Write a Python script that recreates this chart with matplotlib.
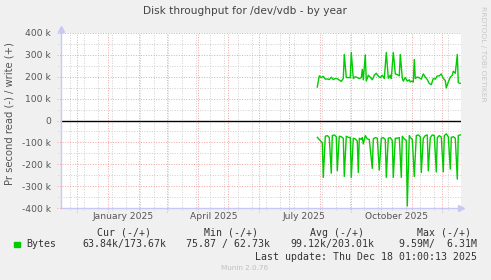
import matplotlib
matplotlib.use("Agg")
import matplotlib.pyplot as plt
import matplotlib.patches as mpatches
import pandas as pd

W, H = 491, 280

# day offsets from 2025-07-01, values in k (bytes per second)
write_days = [28, 30, 32, 34, 36, 38, 40, 42, 44, 46, 48, 50, 52, 54, 55, 57, 59, 61,
              62, 64, 66, 68, 70, 72, 73, 74, 76, 77, 79, 81, 83, 85, 87, 89, 91, 93,
              95, 97, 99, 101, 102, 104, 106, 108, 110, 111, 113, 114, 116, 118, 120,
              121, 122, 124, 125, 126, 128, 130, 132, 134, 136, 138, 140, 142, 144,
              146, 148, 150, 152, 154, 156, 157, 159, 161, 163, 164, 166, 168, 169, 171]
write_kb = [153, 204, 196, 202, 189, 190, 187, 198, 187, 192, 191, 185, 179, 192, 302,
            196, 196, 196, 311, 192, 200, 196, 192, 196, 234, 186, 300, 180, 207, 198,
            186, 207, 216, 203, 196, 207, 192, 311, 193, 207, 192, 311, 213, 210, 204,
            302, 193, 180, 196, 180, 186, 176, 180, 176, 279, 192, 199, 195, 189, 213,
            199, 187, 169, 164, 192, 189, 204, 204, 213, 192, 183, 149, 176, 198, 207,
            225, 216, 302, 173, 170]

read_days = [28, 30, 32, 33, 34, 36, 38, 40, 42, 43, 45, 47, 48, 50, 52, 54, 55, 57,
             59, 61, 62, 64, 66, 68, 69, 70, 72, 73, 74, 76, 78, 80, 83, 84, 86, 88,
             90, 92, 94, 96, 97, 99, 101, 103, 104, 106, 108, 110, 112, 113, 115, 117,
             118, 120, 121, 123, 125, 127, 129, 131, 132, 134, 136, 138, 139, 141, 143,
             145, 147, 148, 150, 152, 154, 155, 157, 159, 161, 162, 164, 166, 168, 169, 171]
read_kb = [-77, -87, -97, -103, -260, -72, -69, -77, -241, -69, -66, -74, -230, -72, -74,
           -81, -256, -72, -77, -78, -260, -81, -84, -94, -238, -81, -87, -78, -107, -69,
           -84, -87, -219, -84, -78, -81, -227, -81, -78, -87, -260, -81, -78, -92, -260,
           -81, -81, -78, -260, -72, -84, -92, -391, -69, -77, -87, -256, -69, -66, -74,
           -238, -81, -69, -66, -230, -78, -66, -69, -235, -78, -69, -76, -235, -69, -61,
           -74, -222, -77, -74, -81, -268, -69, -66]

y_ticks = [-400, -300, -200, -100, 0, 100, 200, 300, 400]
month_labels = ["January 2025", "April 2025", "July 2025", "October 2025"]
label_dates = ["2025-01-16", "2025-04-16", "2025-07-16", "2025-10-16"]

legend_headers = ["Cur (-/+)", "Min (-/+)", "Avg (-/+)", "Max (-/+)"]
legend_values = ["63.84k/173.67k", "75.87 / 62.73k", "99.12k/203.01k", "9.59M/  6.31M"]
last_update = "Last update: Thu Dec 18 01:00:13 2025"

base = pd.Timestamp("2025-07-01")
write_x = [base + pd.Timedelta(days=d) for d in write_days]
read_x = [base + pd.Timedelta(days=d) for d in read_days]

fig = plt.figure(figsize=(W / 100, H / 100), dpi=100, facecolor="#f0f0f0")
ax = fig.add_axes([60.5 / W, 1 - 208 / H, 400.5 / W, 175 / H])
ax.set_facecolor("white")

x0 = pd.Timestamp("2024-11-14 05:00")
x1 = pd.Timestamp("2025-12-19 17:00")
ax.set_xlim(x0, x1)
ax.set_ylim(-400, 400)

red = "#f4a3a3"
grey = "#cfcfcf"
dots = (0, (1, 1.6))

# minor grid: every 50k / every two weeks
for v in range(-350, 400, 100):
    ax.axhline(v, xmin=-0.006, color=grey, lw=0.7, ls=dots, clip_on=False, zorder=1)
for d in pd.date_range("2024-11-24", x1, freq="14D"):
    ax.axvline(d, ymin=-0.012, color=grey, lw=0.7, ls=dots, clip_on=False, zorder=1)
# major grid: every 100k / month starts
for v in y_ticks:
    ax.axhline(v, xmin=-0.009, color=red, lw=0.7, ls=dots, clip_on=False, zorder=2)
for d in pd.date_range("2024-12-01", x1, freq="MS"):
    ax.axvline(d, ymin=-0.022, color=red, lw=0.7, ls=dots, clip_on=False, zorder=2)

ax.axhline(0, color="black", lw=1.0, zorder=3)
ax.plot(write_x, write_kb, color="#00cc00", lw=1.0, zorder=4)
ax.plot(read_x, read_kb, color="#00cc00", lw=1.0, zorder=4)

ax.set_yticks(y_ticks)
ax.set_yticklabels([f"{v} k" if v else "0" for v in y_ticks])
ax.set_xticks(pd.to_datetime(label_dates))
ax.set_xticklabels(month_labels)
ax.tick_params(axis="both", length=0, labelsize=6.6, labelcolor="#555555")
ax.tick_params(axis="y", pad=7)
ax.tick_params(axis="x", pad=3)

axis_col = "#c8c8f4"
for side in ("top", "right"):
    ax.spines[side].set_visible(False)
for side in ("left", "bottom"):
    ax.spines[side].set_color(axis_col)
    ax.spines[side].set_linewidth(1.0)
    ax.spines[side].set_zorder(5)
ax.plot([0, 0], [1.0, 1.02], color=axis_col, lw=1.0, transform=ax.transAxes, clip_on=False)
ax.plot([0], [1.022], marker="^", ms=4, color=axis_col, transform=ax.transAxes, clip_on=False)
ax.plot([1.0], [0], marker=">", ms=4, color=axis_col, transform=ax.transAxes, clip_on=False)

fig.text(245 / W, 1 - 11.5 / H, "Disk throughput for /dev/vdb - by year",
         ha="center", va="center", fontsize=7.6, color="#444444")
fig.text(10 / W, 1 - 114 / H, "Pr second read (-) / write (+)", rotation=90,
         ha="center", va="center", fontsize=7.2, color="#555555")
fig.text(483 / W, 1 - 54 / H, "RRDTOOL / TOBI OETIKER", rotation=270,
         ha="center", va="center", fontsize=5.4, color="#c8c8c8")

mono = dict(family="DejaVu Sans Mono", fontsize=7.1, color="#333333", va="center")
for txt, xp in zip(legend_headers, [97.3, 204, 310, 416.7]):
    fig.text(xp / W, 1 - 232.7 / H, txt, ha="left", **mono)
for txt, xp in zip(legend_values, [82.3, 186, 290, 399]):
    fig.text(xp / W, 1 - 244.3 / H, txt, ha="left", **mono)
fig.text(26.7 / W, 1 - 244.3 / H, "Bytes", ha="left", **mono)
fig.patches.append(mpatches.Rectangle((14 / W, 1 - 247 / H), 5.5 / W, 5.5 / H,
                                      transform=fig.transFigure, color="#00cc00"))
fig.text(477 / W, 1 - 256.7 / H, last_update, ha="right", **mono)
fig.text(245 / W, 1 - 268.3 / H, "Munin 2.0.76", ha="center", va="center",
         fontsize=5.2, color="#c0c0c0")

fig.savefig("out.png", dpi=100, facecolor=fig.get_facecolor())
